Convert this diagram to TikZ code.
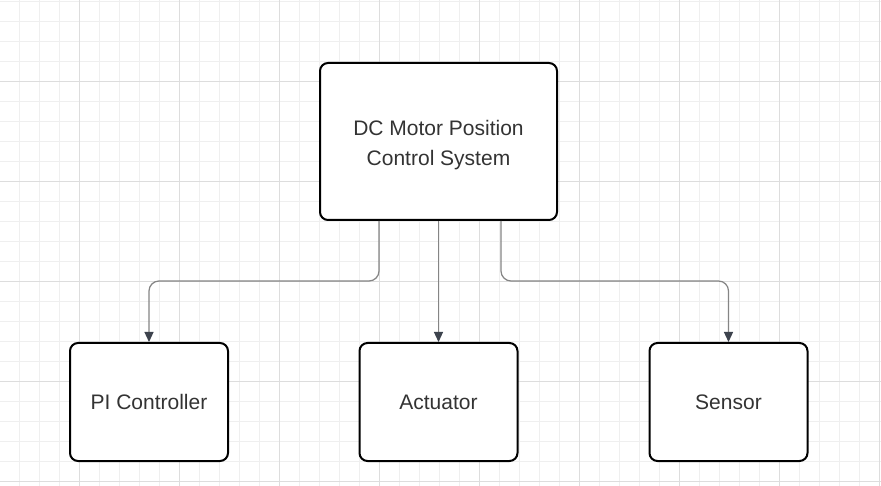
\documentclass[tikz,border=0pt]{standalone}
\usepackage{fontspec}
\setmainfont{Liberation Sans}
\usetikzlibrary{positioning, arrows.meta, calc}

\definecolor{gridminor}{HTML}{EFEFEF}
\definecolor{gridmajor}{HTML}{DDDDDD}
\definecolor{linkgray}{HTML}{858585}
\definecolor{tipgray}{HTML}{3D434D}
\definecolor{textgray}{HTML}{333333}

\tikzset{
    block/.style={draw=black, line width=2pt, rounded corners=8pt, fill=white,
        inner sep=0pt, align=center, text=textgray,
        font=\fontsize{21}{30}\selectfont},
    link/.style={draw=linkgray, line width=1.2pt, rounded corners=10pt,
        -{Triangle[length=10pt,width=9pt,fill=tipgray,color=tipgray]}},
}

\begin{document}
\begin{tikzpicture}[x=1pt, y=-1pt]
    \useasboundingbox (0,0) rectangle (881,486);
    \fill[white] (0,0) rectangle (881,486);

    % grid
    \foreach \x in {19.5,39.5,...,880} \draw[gridminor, line width=1pt] (\x,0) -- (\x,486);
    \foreach \y in {1.5,21.5,...,486} \draw[gridminor, line width=1pt] (0,\y) -- (881,\y);
    \foreach \x in {79.5,179.5,...,880} \draw[gridmajor, line width=1pt] (\x,0) -- (\x,486);
    \foreach \y in {81.5,181.5,...,486} \draw[gridmajor, line width=1pt] (0,\y) -- (881,\y);

    \node[block, minimum width=237pt, minimum height=157pt] (sys) at (438.5,141.5)
        {\rule{0pt}{22pt}DC Motor Position\\Control System};
    \node[block, minimum width=158pt, minimum height=118pt] (pi) at (149,402) {PI Controller};
    \node[block, minimum width=158pt, minimum height=118pt] (act) at (438.5,402) {Actuator};
    \node[block, minimum width=158pt, minimum height=118pt] (sen) at (728.5,402) {Sensor};

    \draw[link] ([xshift=-59.5pt]sys.south) -- ++(0,60) -| (pi.north);
    \draw[link] (sys.south) -- (act.north);
    \draw[link] ([xshift=62.5pt]sys.south) -- ++(0,60) -| (sen.north);
\end{tikzpicture}
\end{document}
